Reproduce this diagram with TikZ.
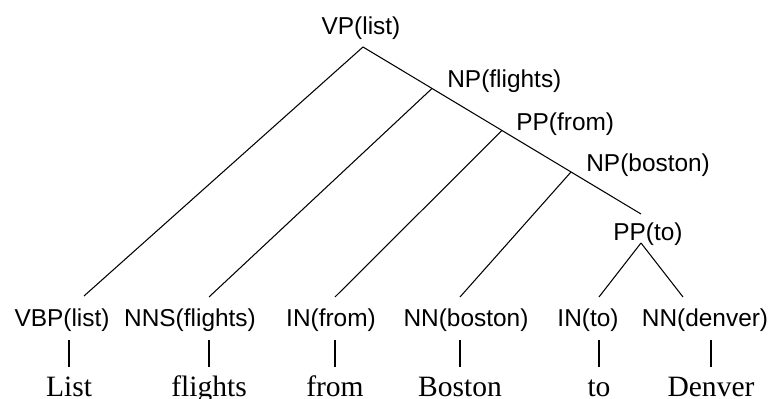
\documentclass[tikz,border=0pt]{standalone}
\usepackage{fontspec}
\setmainfont{Liberation Serif}
\setsansfont{Liberation Sans}
\usetikzlibrary{positioning}

\tikzset{
  cat/.style={font=\sffamily\fontsize{13.9}{16}\selectfont,inner sep=0pt},
  word/.style={font=\fontsize{16.8}{19}\selectfont,inner sep=0pt,anchor=base},
  branch/.style={line width=0.6pt},
}

\begin{document}
\begin{tikzpicture}
  \useasboundingbox (0,0) rectangle (15.38,7.98);
  % phrase heads along the right spine
  \node[cat,anchor=base] (vp) at (7.22,7.28) {VP(list)};
  \node[cat,anchor=base west] (npf) at (8.94,6.22) {NP(flights)};
  \node[cat,anchor=base west] (ppf) at (10.32,5.36) {PP(from)};
  \node[cat,anchor=base west] (npb) at (11.72,4.54) {NP(boston)};
  \node[cat,anchor=base] (ppt) at (12.96,3.16) {PP(to)};
  \coordinate (top) at (7.26,7.04);
  \coordinate (j1) at (8.64,6.21);
  \coordinate (j2) at (10.04,5.37);
  \coordinate (j3) at (11.42,4.54);
  \coordinate (end) at (12.82,3.70);
  \coordinate (ppt-down) at (12.82,3.12);
  % preterminals
  \foreach \n/\x/\t in {vbp/1.24/VBP(list), nns/3.80/NNS(flights), inf/6.62/IN(from),
      nnb/9.32/NN(boston), int/11.76/IN(to), nnd/14.10/NN(denver)}
    \node[cat,anchor=base] (\n) at (\x,1.44) {\t};
  \coordinate (vbp-up) at (1.68,2.06);
  \coordinate (nns-up) at (4.18,2.04);
  \coordinate (inf-up) at (6.70,2.04);
  \coordinate (nnb-up) at (9.20,2.04);
  \coordinate (int-up) at (11.98,2.04);
  \coordinate (nnd-up) at (13.66,2.04);
  % words
  \foreach \n/\x/\t in {list/1.38/List, flights/4.18/flights, from/6.70/from,
      boston/9.20/Boston, to/11.98/to, denver/14.22/Denver}
  {
    \node[word] (\n) at (\x,0.04) {\t};
    \draw[branch] (\n |- 0,0.64) -- (\n |- 0,1.18);
  }
  % branches
  \draw[branch] (top) -- (end);
  \foreach \a/\b in {top/vbp-up, j1/nns-up, j2/inf-up, j3/nnb-up, ppt-down/int-up, ppt-down/nnd-up}
    \draw[branch] (\a) -- (\b);
\end{tikzpicture}
\end{document}
